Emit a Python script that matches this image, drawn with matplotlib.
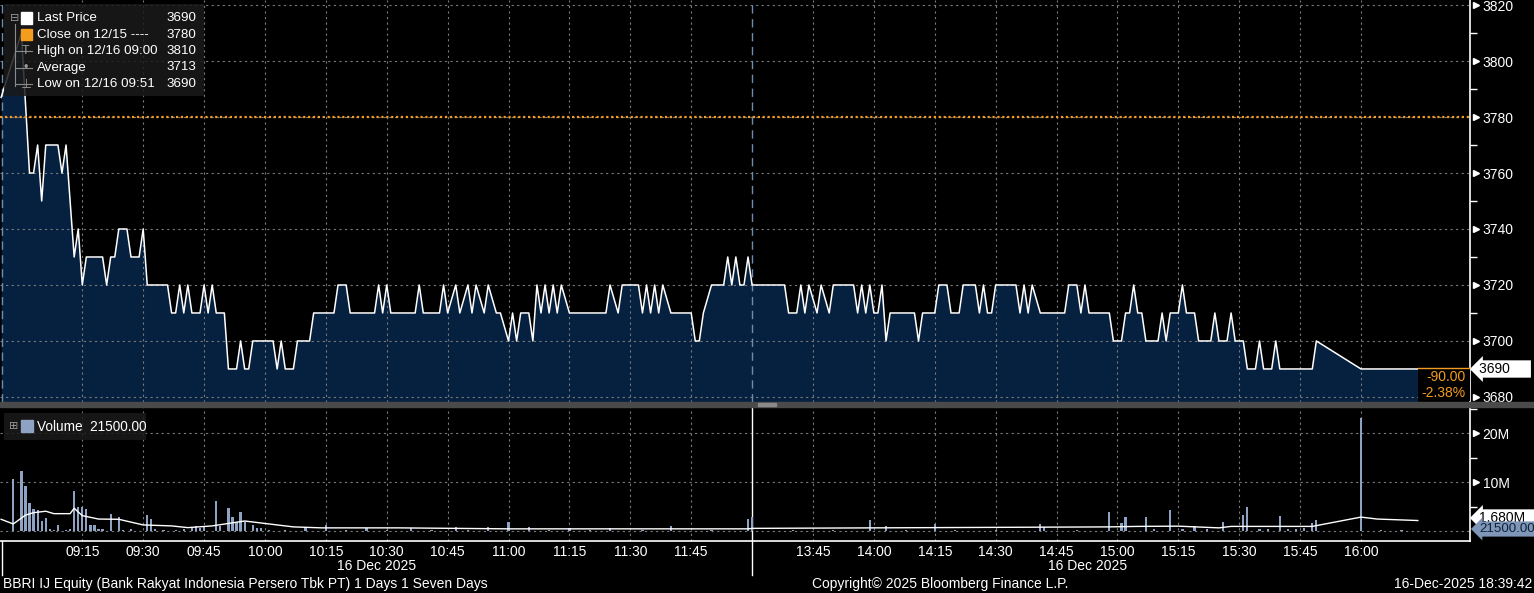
import numpy as np
import matplotlib.pyplot as plt
from matplotlib.patches import Rectangle

plt.rcParams['font.family'] = ['Liberation Sans', 'DejaVu Sans']

# ---- data ----
price_times = [
    "08:55", "09:00", "09:02", "09:03", "09:04", "09:05", "09:06", "09:09", "09:10", "09:11",
    "09:13", "09:14", "09:15", "09:16", "09:20", "09:21", "09:22", "09:23", "09:24", "09:26",
    "09:27", "09:29", "09:30", "09:31", "09:36", "09:37", "09:38", "09:39", "09:40", "09:41",
    "09:42", "09:44", "09:45", "09:46", "09:47", "09:48", "09:50", "09:51", "09:53", "09:54",
    "09:55", "09:56", "09:57", "10:02", "10:03", "10:04", "10:05", "10:07", "10:08", "10:11",
    "10:12", "10:17", "10:18", "10:20", "10:21", "10:27", "10:28", "10:29", "10:30", "10:31",
    "10:37", "10:38", "10:39", "10:43", "10:44", "10:45", "10:47", "10:48", "10:50", "10:51",
    "10:52", "10:54", "10:55", "10:57", "10:58", "11:00", "11:01", "11:02", "11:03", "11:05",
    "11:06", "11:07", "11:08", "11:09", "11:10", "11:11", "11:12", "11:13", "11:15", "11:24",
    "11:25", "11:27", "11:28", "11:32", "11:33", "11:34", "11:35", "11:36", "11:37", "11:38",
    "11:40", "11:45", "11:46", "11:47", "11:48", "11:50", "11:53", "11:54", "11:55", "11:56",
    "11:57", "11:58", "11:59",
    "13:30", "13:38", "13:39", "13:41", "13:42", "13:43", "13:44", "13:46", "13:47", "13:49",
    "13:50", "13:55", "13:56", "13:57", "13:58", "13:59", "14:00", "14:01", "14:02", "14:03",
    "14:04", "14:10", "14:11", "14:12", "14:15", "14:16", "14:18", "14:19", "14:21", "14:22",
    "14:25", "14:26", "14:27", "14:28", "14:29", "14:30", "14:35", "14:36", "14:37", "14:38",
    "14:39", "14:41", "14:47", "14:48", "14:50", "14:51", "14:52", "14:53", "14:58", "14:59",
    "15:01", "15:02", "15:03", "15:04", "15:05", "15:06", "15:07", "15:10", "15:11", "15:12",
    "15:13", "15:15", "15:16", "15:17", "15:19", "15:20", "15:23", "15:24", "15:25", "15:27",
    "15:28", "15:29", "15:31", "15:32", "15:34", "15:35", "15:36", "15:38", "15:39", "15:40",
    "15:48", "15:49", "16:00", "16:14",
]
prices = [
    3787, 3810, 3760, 3760, 3770, 3750, 3770, 3770, 3760, 3770,
    3730, 3740, 3720, 3730, 3730, 3720, 3730, 3730, 3740, 3740,
    3730, 3730, 3740, 3720, 3720, 3710, 3710, 3720, 3710, 3720,
    3710, 3710, 3720, 3710, 3720, 3710, 3710, 3690, 3690, 3700,
    3690, 3690, 3700, 3700, 3690, 3700, 3690, 3690, 3700, 3700,
    3710, 3710, 3720, 3720, 3710, 3710, 3720, 3710, 3720, 3710,
    3710, 3720, 3710, 3710, 3720, 3710, 3720, 3710, 3720, 3710,
    3720, 3710, 3720, 3710, 3710, 3700, 3710, 3700, 3710, 3710,
    3700, 3720, 3710, 3720, 3710, 3720, 3710, 3720, 3710, 3710,
    3720, 3710, 3720, 3720, 3710, 3720, 3710, 3720, 3710, 3720,
    3710, 3710, 3700, 3700, 3710, 3720, 3720, 3730, 3720, 3730,
    3720, 3720, 3730,
    3720, 3720, 3710, 3710, 3720, 3710, 3720, 3710, 3720, 3710,
    3720, 3720, 3710, 3720, 3710, 3720, 3710, 3710, 3720, 3700,
    3710, 3710, 3700, 3710, 3710, 3720, 3720, 3710, 3710, 3720,
    3720, 3710, 3720, 3710, 3710, 3720, 3720, 3710, 3720, 3710,
    3720, 3710, 3710, 3720, 3720, 3710, 3720, 3710, 3710, 3700,
    3700, 3710, 3710, 3720, 3710, 3710, 3700, 3700, 3710, 3700,
    3710, 3710, 3720, 3710, 3710, 3700, 3700, 3710, 3700, 3700,
    3710, 3700, 3700, 3690, 3690, 3700, 3690, 3690, 3700, 3690,
    3690, 3700, 3690, 3690,
]

vol_times = [
    "08:58", "09:00", "09:01", "09:02", "09:03", "09:04", "09:05", "09:06", "09:07", "09:08",
    "09:09", "09:11", "09:12", "09:13", "09:14", "09:15", "09:16", "09:17", "09:18", "09:19",
    "09:20", "09:22", "09:24", "09:25", "09:27", "09:31", "09:32", "09:33", "09:35", "09:38",
    "09:40", "09:42", "09:43", "09:44", "09:45", "09:48", "09:49", "09:51", "09:52", "09:53",
    "09:54", "09:55", "09:57", "09:58", "09:59", "10:01", "10:05", "10:10", "10:15", "10:20",
    "10:25", "10:30", "10:36", "10:41", "10:47", "10:50", "10:55", "11:00", "11:05", "11:10",
    "11:15", "11:20", "11:25", "11:33", "11:40", "11:50", "11:59",
    "13:30", "13:40", "13:50", "13:59", "14:03", "14:08", "14:15", "14:20", "14:30", "14:41",
    "14:42", "14:50", "14:58", "15:01", "15:02", "15:07", "15:09", "15:13", "15:16", "15:19",
    "15:22", "15:26", "15:31", "15:32", "15:35", "15:37", "15:40", "15:42", "15:44", "15:46",
    "15:48", "15:49", "16:00", "16:05", "16:10",
]
volumes = [  # millions of shares
    10.7, 12.3, 9.2, 5.7, 4.5, 4.3, 2.1, 2.8, 0.5, 0.3,
    1.3, 0.3, 0.4, 8.2, 4.9, 5.0, 4.6, 1.3, 1.3, 0.5,
    0.4, 3.5, 2.9, 0.3, 0.4, 3.3, 2.5, 0.5, 0.3, 0.3,
    0.4, 0.7, 1.0, 0.6, 0.8, 6.2, 1.0, 4.8, 2.9, 1.8,
    3.9, 1.8, 1.2, 0.7, 0.7, 0.3, 0.3, 0.8, 1.2, 0.3,
    0.6, 0.3, 0.7, 0.3, 0.9, 0.3, 0.8, 2.0, 0.8, 0.3,
    0.6, 0.3, 0.7, 0.3, 1.0, 0.3, 2.5,
    3.0, 0.3, 0.3, 2.3, 1.0, 0.3, 1.5, 0.3, 0.3, 1.4,
    0.9, 0.3, 3.9, 1.7, 2.9, 2.9, 0.5, 4.3, 0.4, 1.0,
    0.4, 1.9, 3.3, 5.0, 0.5, 0.4, 3.1, 0.5, 0.5, 0.6,
    1.7, 2.3, 23.1, 0.3, 0.3,
]

avg_times = ["08:55", "08:58", "09:01", "09:03", "09:06", "09:08", "09:12", "09:13", "09:15",
             "09:19", "09:24", "09:30", "09:37", "09:41", "09:47", "09:55", "10:00", "10:07",
             "10:14", "10:33", "11:00", "11:59", "13:30", "14:00", "14:58", "15:05", "15:15",
             "15:25", "15:28", "15:48", "16:00", "16:04", "16:14"]
avg_vol = [2.45, 1.5, 3.3, 3.8, 4.1, 3.6, 3.6, 4.7, 3.2,
           2.5, 2.45, 1.3, 1.1, 0.75, 1.1, 2.1, 1.6, 0.9,
           0.7, 0.7, 0.5, 0.5, 0.6, 0.7, 0.9, 1.0, 1.05,
           0.7, 1.0, 1.0, 2.9, 2.5, 2.2]

morning_ticks = ["09:15", "09:30", "09:45", "10:00", "10:15", "10:30", "10:45", "11:00", "11:15", "11:30", "11:45"]
afternoon_ticks = ["13:45", "14:00", "14:15", "14:30", "14:45", "15:00", "15:15", "15:30", "15:45", "16:00"]
prev_close = 3780


def tpos(s):
    # trading minutes from 09:00, lunch break (12:00-13:30) squeezed out
    h, m = map(int, s.split(':'))
    mins = h * 60 + m - 540
    if mins >= 270:
        mins -= 90
    return mins


W, H = 1534, 593
FS = 10
fig = plt.figure(figsize=(W / 100, H / 100), dpi=100, facecolor='black')


def fx(x):
    return x / W


def fy(y):
    return 1 - y / H


ax = fig.add_axes([0, fy(402), fx(1470), fy(0) - fy(402)])
axv = fig.add_axes([0, fy(541), fx(1470), fy(407) - fy(541)], sharex=ax)

xp = np.array([tpos(t) for t in price_times])
xv = np.array([tpos(t) for t in vol_times])
xa = np.array([tpos(t) for t in avg_times])
xlo, xhi = -5.27, 356.85
grid_col = '#7a7a7a'
grid_ls = (0, (2, 3))
sess_col = '#6d8cae'
orange = '#f39c1f'
tick_pos = [tpos(t) for t in morning_ticks + afternoon_ticks]

# ---- price panel ----
ax.set_facecolor('black')
ax.set_xlim(xlo, xhi)
ax.set_ylim(3678.2, 3821.8)
ax.fill_between(xp, prices, 3600, color='#062040', lw=0, zorder=1)
ax.plot(xp, prices, color='white', lw=1.1, zorder=3)
ax.axhline(prev_close, color=orange, lw=1.6, ls=(0, (1, 1.2)), zorder=4)
for yv in range(3680, 3821, 20):
    ax.axhline(yv, color=grid_col, lw=0.8, ls=grid_ls, zorder=2)
for xv_ in tick_pos:
    ax.axvline(xv_, color=grid_col, lw=0.8, ls=grid_ls, zorder=2)
for xs in [-4.8, 180]:
    ax.axvline(xs, color=sess_col, lw=1.0, ls=(0, (6, 4)), zorder=2)

ax.yaxis.tick_right()
ax.set_yticks(range(3680, 3821, 20))
ax.set_yticks(range(3690, 3821, 20), minor=True)
ax.tick_params(axis='y', which='major', length=0, pad=9, labelcolor='white', labelsize=FS)
ax.tick_params(axis='y', which='minor', length=5, width=1, color='white', direction='out')
ax.tick_params(axis='x', which='both', length=0, labelbottom=False)
for side in ['top', 'left', 'bottom']:
    ax.spines[side].set_visible(False)
ax.spines['right'].set_color('white')
ax.spines['right'].set_linewidth(1.2)
for yv in range(3680, 3821, 20):
    ax.plot([1.004], [yv], marker='>', ms=5, color='white', transform=ax.get_yaxis_transform(),
            clip_on=False, zorder=5)

# ---- volume panel ----
axv.set_facecolor('black')
axv.set_ylim(-1.98, 25.37)
axv.bar(xv, volumes, width=0.55, color='#8ea3c4', zorder=3)
axv.plot(xa, avg_vol, color='white', lw=1.0, zorder=4)
for yv in [0, 10, 20]:
    axv.axhline(yv, color=grid_col, lw=0.8, ls=grid_ls, zorder=2)
for xv_ in tick_pos:
    axv.axvline(xv_, color=grid_col, lw=0.8, ls=grid_ls, zorder=2)
axv.axvline(180, color='white', lw=1.0, zorder=2)

axv.yaxis.tick_right()
axv.set_yticks([10, 20])
axv.set_yticklabels(['10M', '20M'])
axv.set_yticks([5, 15, 25], minor=True)
axv.tick_params(axis='y', which='major', length=0, pad=9, labelcolor='white', labelsize=FS)
axv.tick_params(axis='y', which='minor', length=5, width=1, color='white', direction='out')
for yv in [10, 20]:
    axv.plot([1.004], [yv], marker='>', ms=5, color='white', transform=axv.get_yaxis_transform(),
             clip_on=False, zorder=5)
axv.set_xticks(tick_pos)
axv.set_xticklabels(morning_ticks + afternoon_ticks)
axv.tick_params(axis='x', length=0, pad=3, labelcolor='white', labelsize=FS)
for side in ['top', 'left']:
    axv.spines[side].set_visible(False)
for side in ['right', 'bottom']:
    axv.spines[side].set_color('white')
    axv.spines[side].set_linewidth(1.2)

# ---- separator and frame lines (figure coords) ----
fig.patches.append(Rectangle((0, fy(407)), 1, fy(402) - fy(407), transform=fig.transFigure,
                             color='#4a4a4a', zorder=0))
fig.patches.append(Rectangle((fx(758), fy(406)), fx(18), fy(403) - fy(406), transform=fig.transFigure,
                             color='#8a8a8a', zorder=1))
for xs in [2, 752]:
    fig.add_artist(plt.Line2D([fx(xs), fx(xs)], [fy(541), fy(575)], color='white', lw=1.0))

# ---- legends ----
fig.patches.append(Rectangle((fx(4), fy(96)), fx(200), fy(4) - fy(96), transform=fig.transFigure,
                             facecolor='#1a1a1a', alpha=0.85, edgecolor='none', zorder=6))
legend_rows = [("Last Price", "3690", 'white'),
               ("Close on 12/15 ----", "3780", orange),
               ("High on 12/16 09:00", "3810", None),
               ("Average", "3713", None),
               ("Low on 12/16 09:51", "3690", None)]
for i, (lab, val, col) in enumerate(legend_rows):
    yy = 18 + i * 16.5
    if col is not None:
        fig.patches.append(Rectangle((fx(21), fy(yy + 5.5)), fx(11), fy(yy - 5.5) - fy(yy + 5.5),
                                     transform=fig.transFigure, color=col, zorder=8))
    fig.text(fx(37), fy(yy), lab, color='white', fontsize=9.6, va='center', ha='left', zorder=8)
    fig.text(fx(196), fy(yy), val, color='white', fontsize=9.6, va='center', ha='right', zorder=8)
# tree marks
fig.add_artist(plt.Line2D([fx(15), fx(15)], [fy(24), fy(86)], color='#8a8a8a', lw=0.8, zorder=7))
for yy in [51, 68, 84]:
    fig.add_artist(plt.Line2D([fx(15), fx(32)], [fy(yy), fy(yy)], color='#8a8a8a', lw=0.8, zorder=7))
fig.text(fx(15), fy(18), "⊟", color='#9a9a9a', fontsize=8, ha='center', va='center', zorder=8,
         family='DejaVu Sans')
fig.text(fx(26), fy(51), "T", color='#9a9a9a', fontsize=9, ha='center', va='center', zorder=8)
fig.text(fx(26), fy(68), "•", color='#9a9a9a', fontsize=9, ha='center', va='center', zorder=8)
fig.text(fx(26), fy(84), "⊥", color='#9a9a9a', fontsize=9, ha='center', va='center', zorder=8,
         family='DejaVu Sans')

fig.patches.append(Rectangle((fx(4), fy(440)), fx(142), fy(413) - fy(440), transform=fig.transFigure,
                             facecolor='#1a1a1a', alpha=0.85, edgecolor='none', zorder=6))
fig.text(fx(14), fy(426), "⊞", color='#9a9a9a', fontsize=8, ha='center', va='center', zorder=8,
         family='DejaVu Sans')
fig.patches.append(Rectangle((fx(21), fy(432)), fx(12), fy(420) - fy(432), transform=fig.transFigure,
                             color='#8ea3c4', zorder=8))
fig.text(fx(37), fy(427), "Volume  21500.00", color='white', fontsize=9.8, va='center', ha='left', zorder=8)

# ---- right side value labels ----
fig.patches.append(Rectangle((fx(1418), fy(401)), fx(52), fy(368) - fy(401), transform=fig.transFigure,
                             facecolor='black', edgecolor='none', zorder=6))
fig.add_artist(plt.Line2D([fx(1418), fx(1470)], [fy(368), fy(368)], color=orange, lw=1.0, zorder=7))
fig.text(fx(1466), fy(377), "-90.00", color=orange, fontsize=FS, ha='right', va='center', zorder=8)
fig.text(fx(1466), fy(393), "-2.38%", color=orange, fontsize=FS, ha='right', va='center', zorder=8)
fig.text(fx(1479), fy(369), "3690     ", color='black', fontsize=FS, ha='left', va='center', zorder=8,
         bbox=dict(boxstyle='larrow,pad=0.12', fc='white', ec='none'))
fig.text(fx(1479), fy(518), "1.680M  ", color='black', fontsize=FS, ha='left', va='center', zorder=8,
         bbox=dict(boxstyle='larrow,pad=0.12', fc='white', ec='none'))
fig.text(fx(1479), fy(529), "21500.00", color='#10223a', fontsize=9.6, ha='left', va='center', zorder=9,
         bbox=dict(boxstyle='larrow,pad=0.12', fc='#7f96b8', ec='none'))

# ---- bottom texts ----
fig.text(fx(377), fy(566), "16 Dec 2025", color='white', fontsize=FS, ha='center', va='center')
fig.text(fx(1088), fy(566), "16 Dec 2025", color='white', fontsize=FS, ha='center', va='center')
fig.text(fx(3), fy(584), "BBRI IJ Equity (Bank Rakyat Indonesia Persero Tbk PT) 1 Days 1 Seven Days",
         color='white', fontsize=FS, ha='left', va='center')
fig.text(fx(812), fy(584), "Copyright\u00a9 2025 Bloomberg Finance L.P.", color='white', fontsize=FS,
         ha='left', va='center')
fig.text(fx(1532), fy(584), "16-Dec-2025 18:39:42", color='white', fontsize=FS, ha='right', va='center')

fig.savefig('out.png', dpi=100, facecolor='black')
